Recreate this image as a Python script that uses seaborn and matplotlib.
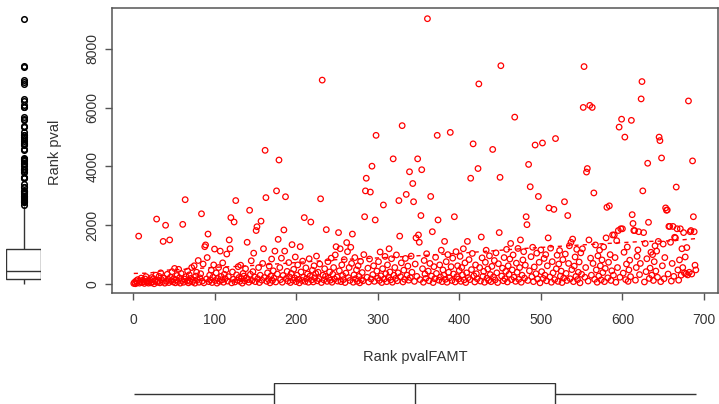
import numpy as np
import matplotlib
matplotlib.use("Agg")
import matplotlib.pyplot as plt
import seaborn as sns
import pandas as pd

plt.rcParams['font.family'] = ['Liberation Sans Narrow', 'Liberation Sans', 'DejaVu Sans']

# Rank pval, listed in order of Rank pvalFAMT (1..690)
rank_pval = [
    20, 60, 10, 110, 40, 150, 1630, 30, 90, 200,
    50, 130, 80, 20, 170, 250, 60, 110, 30, 90,
    140, 40, 220, 70, 180, 10, 100, 300, 2210, 60,
    120, 260, 40, 380, 150, 80, 1450, 200, 30, 2000,
    90, 330, 160, 50, 1500, 230, 110, 420, 70, 180,
    530, 40, 140, 290, 80, 500, 210, 30, 360, 120,
    2030, 60, 170, 2870, 250, 100, 440, 40, 310, 90,
    190, 560, 70, 130, 620, 30, 270, 400, 150, 800,
    60, 210, 350, 2390, 100, 680, 40, 1270, 1330, 170,
    900, 1700, 80, 300, 140, 470, 50, 230, 650, 1190,
    120, 380, 30, 190, 560, 90, 1120, 260, 140, 720,
    60, 330, 180, 480, 1020, 100, 250, 1500, 1200, 2260,
    40, 410, 160, 2110, 70, 2840, 310, 130, 590, 220,
    90, 640, 180, 30, 360, 270, 110, 520, 200, 1420,
    150, 60, 2510, 330, 790, 120, 420, 1050, 240, 80,
    1820, 1950, 180, 560, 50, 300, 2140, 130, 700, 1200,
    220, 4550, 2940, 90, 380, 160, 610, 40, 270, 850,
    120, 450, 200, 1120, 70, 3170, 340, 1520, 4220, 560,
    150, 880, 60, 290, 1840, 1120, 2970, 190, 430, 100,
    730, 240, 50, 360, 1340, 130, 500, 210, 920, 80,
    300, 650, 160, 40, 1270, 410, 120, 780, 230, 2260,
    90, 550, 190, 340, 60, 860, 270, 2110, 140, 470,
    70, 620, 210, 360, 950, 110, 400, 180, 680, 2900,
    50, 6940, 300, 140, 520, 260, 1850, 90, 760, 200,
    410, 130, 880, 60, 330, 560, 170, 990, 1270, 240,
    100, 1750, 450, 1200, 80, 650, 290, 150, 830, 50,
    370, 1410, 1100, 220, 560, 120, 1250, 700, 1700, 60,
    310, 900, 180, 480, 90, 620, 260, 40, 770, 150,
    390, 110, 1000, 2290, 3170, 3600, 230, 540, 70, 850,
    3130, 170, 4010, 320, 620, 90, 2180, 5060, 440, 200,
    760, 120, 1090, 280, 50, 520, 2690, 170, 940, 350,
    80, 650, 230, 1200, 410, 140, 860, 60, 4260, 300,
    560, 190, 990, 110, 380, 2840, 1630, 250, 720, 5390,
    70, 470, 160, 870, 3050, 300, 610, 130, 3820, 220,
    950, 400, 3420, 2800, 90, 680, 1570, 260, 4260, 1670,
    1420, 150, 2330, 3890, 520, 60, 800, 340, 190, 1030,
    9030, 440, 110, 700, 2980, 270, 1780, 50, 590, 180,
    910, 360, 5060, 2180, 130, 650, 240, 1150, 80, 480,
    300, 1450, 160, 760, 60, 1000, 400, 210, 5160, 590,
    120, 880, 340, 2290, 70, 1100, 250, 620, 170, 460,
    940, 90, 560, 310, 1200, 140, 720, 50, 380, 1450,
    220, 830, 150, 3600, 490, 1040, 4770, 280, 70, 650,
    350, 180, 3930, 6810, 560, 100, 1600, 890, 260, 430,
    60, 740, 1150, 200, 510, 120, 960, 320, 80, 600,
    4580, 240, 800, 140, 1060, 380, 50, 690, 1750, 3630,
    7430, 270, 540, 110, 900, 180, 430, 1180, 70, 620,
    330, 850, 1380, 150, 480, 990, 230, 5680, 90, 710,
    400, 1210, 160, 560, 1500, 60, 300, 820, 1100, 200,
    640, 2290, 2020, 120, 4070, 450, 3310, 930, 250, 1250,
    80, 580, 4730, 350, 1050, 170, 2980, 740, 40, 1160,
    420, 4800, 190, 870, 300, 1000, 110, 620, 1570, 2590,
    240, 1220, 60, 760, 380, 2540, 150, 4950, 520, 980,
    90, 680, 1140, 270, 440, 50, 830, 200, 2800, 1020,
    360, 120, 2330, 700, 1300, 180, 1420, 490, 1530, 80,
    610, 920, 260, 1180, 150, 400, 750, 40, 1060, 330,
    1200, 6010, 7400, 230, 560, 3810, 3930, 100, 1500, 6080,
    880, 300, 6010, 700, 3100, 160, 1330, 480, 60, 960,
    270, 1150, 620, 140, 820, 390, 1260, 80, 530, 1570,
    2610, 210, 740, 2660, 1000, 120, 450, 1670, 300, 1670,
    900, 60, 1475, 560, 1820, 5340, 230, 1880, 5610, 1880,
    370, 1080, 5000, 150, 680, 1260, 90, 480, 810, 250,
    5570, 2360, 2060, 1820, 1820, 130, 560, 940, 1160, 1780,
    320, 700, 6300, 6890, 3170, 1750, 70, 1380, 420, 860,
    4110, 2100, 190, 540, 1080, 300, 1000, 120, 760, 1300,
    440, 1120, 230, 1450, 5000, 4880, 80, 4290, 620, 1360,
    180, 900, 2590, 2510, 2520, 340, 1960, 1960, 1420, 100,
    700, 1960, 260, 1590, 1570, 3300, 1880, 480, 130, 820,
    1880, 300, 1200, 560, 1750, 380, 920, 350, 1240, 310,
    6230, 400, 1780, 1820, 340, 4190, 2290, 1780, 640, 480,
]
rank_famt = list(range(1, len(rank_pval) + 1))

# smoother (dashed line)
smooth_x = [1, 20, 40, 70, 100, 130, 185, 250, 280, 330, 400, 480, 550, 620, 660, 690]
smooth_y = [360, 370, 470, 510, 570, 600, 700, 830, 860, 930, 1045, 1210, 1330, 1440, 1470, 1545]

xticks = [0, 100, 200, 300, 400, 500, 600, 700]
yticks = [0, 2000, 4000, 6000, 8000]

df = pd.DataFrame({'famt': rank_famt, 'pval': rank_pval})
sm = pd.DataFrame({'x': smooth_x, 'y': smooth_y})

W, H = 719, 404
fig = plt.figure(figsize=(W / 100, H / 100), dpi=100)

x0, x1 = 112, 718
ytop, ybot = 8, 293
ax = fig.add_axes([x0 / W, (H - ybot) / H, (x1 - x0) / W, (ybot - ytop) / H])
axl = fig.add_axes([6 / W, (H - ybot) / H, 35 / W, (ybot - ytop) / H])
axb = fig.add_axes([x0 / W, (H - 405) / H, (x1 - x0) / W, 22 / H])

red = '#ff0000'
grey = '#555555'

sns.scatterplot(data=df, x='famt', y='pval', ax=ax, marker='o', s=16,
                facecolor='none', edgecolor=red, linewidth=0.9, legend=False)
sns.lineplot(data=sm, x='x', y='y', ax=ax, color=red, linewidth=1.0,
             linestyle=(0, (3, 3)), legend=False)

xlim = (-25.7, 717.2)
ylim = (-306, 9394)
ax.set_xlim(xlim)
ax.set_ylim(ylim)
ax.set_xticks(xticks)
ax.set_yticks(yticks)
ax.set_yticklabels([str(t) for t in yticks], rotation=90, va='center')
ax.set_xlabel('')
ax.set_ylabel('')
ax.tick_params(axis='both', direction='out', length=5, width=1, color=grey,
               labelcolor='#333333', labelsize=10)
ax.tick_params(axis='x', pad=9.5)
ax.tick_params(axis='y', pad=4)
for s in ax.spines.values():
    s.set_color(grey)
    s.set_linewidth(1.1)

fig.text(415 / W, 1 - 357 / H, 'Rank pvalFAMT', ha='center', va='center',
         fontsize=10.5, color='#333333')
fig.text(55 / W, 1 - 152 / H, 'Rank pval', ha='center', va='center',
         rotation=90, fontsize=10.5, color='#333333')

box_kw = dict(color='white', linecolor='#333333', linewidth=1.0, width=1.0,
              whis=1.5, capprops=dict(linewidth=0))

# marginal boxplot of Rank pval (left)
sns.boxplot(y=df['pval'], ax=axl, fliersize=4,
            flierprops=dict(marker='o', markerfacecolor='none',
                            markeredgecolor='black', markeredgewidth=1.1),
            **box_kw)
axl.set_ylim(ylim)
axl.set_xlim(-0.5, 0.5)
axl.axis('off')

# marginal boxplot of Rank pvalFAMT (bottom)
sns.boxplot(x=df['famt'], ax=axb, fliersize=0, **box_kw)
axb.set_xlim(xlim)
axb.set_ylim(0.5, -0.5)
axb.axis('off')

fig.savefig('out.png', dpi=100)
